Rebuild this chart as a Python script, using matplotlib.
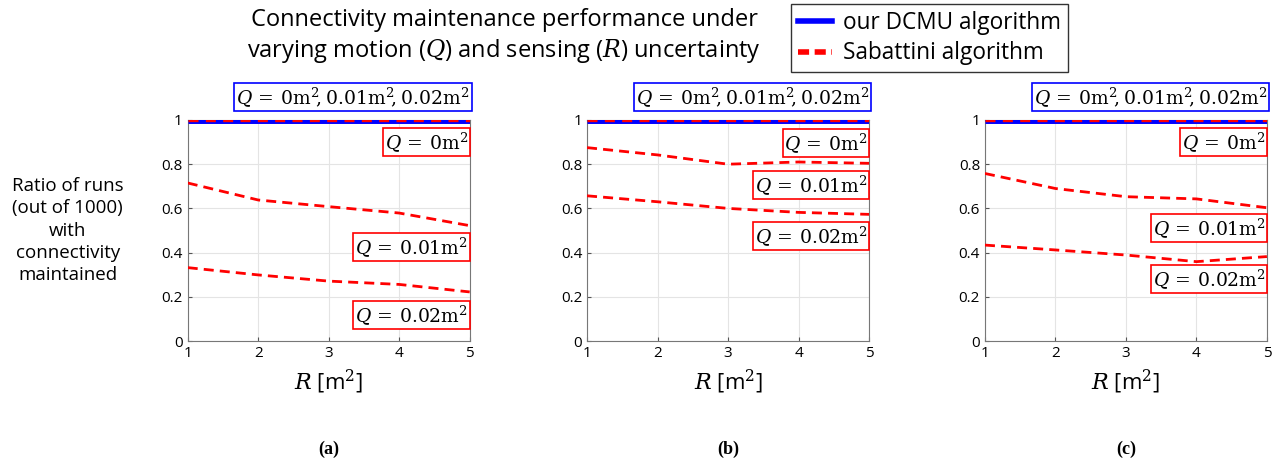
import numpy as np
import matplotlib.pyplot as plt

# data
R = [1, 2, 3, 4, 5]
dcmu_all = [1, 1, 1, 1, 1]
sab_q0 = [1, 1, 1, 1, 1]
sab_q001 = {
    "a": [0.715, 0.638, 0.608, 0.579, 0.522],
    "b": [0.875, 0.842, 0.800, 0.810, 0.804],
    "c": [0.758, 0.690, 0.653, 0.643, 0.603],
}
sab_q002 = {
    "a": [0.332, 0.299, 0.271, 0.256, 0.222],
    "b": [0.657, 0.630, 0.600, 0.582, 0.573],
    "c": [0.434, 0.412, 0.389, 0.359, 0.382],
}
# y position of the red label boxes (data coords)
label_y = {
    "a": [0.90, 0.425, 0.118],
    "b": [0.896, 0.706, 0.475],
    "c": [0.90, 0.51, 0.28],
}
panels = ["a", "b", "c"]
q_labels = [r"$Q\,=\,0\mathrm{m}^2$", r"$Q\,=\,0.01\mathrm{m}^2$", r"$Q\,=\,0.02\mathrm{m}^2$"]
blue_label = r"$Q\,=\,0\mathrm{m}^2\!,0.01\mathrm{m}^2\!,0.02\mathrm{m}^2$"

plt.rcParams['mathtext.fontset'] = 'dejavuserif'
plt.rcParams['font.family'] = ['Open Sans', 'DejaVu Sans']

fig = plt.figure(figsize=(12.77, 4.61), dpi=100)
lefts = [0.147, 0.4597, 0.7713]
dash = (0, (3.6, 2.2))

for key, left in zip(panels, lefts):
    ax = fig.add_axes([left, 0.2603, 0.2208, 0.4794])
    ax.plot(R, dcmu_all, color='blue', lw=5, solid_capstyle='butt', zorder=3)
    ax.plot(R, sab_q0, color='red', lw=2.4, ls=(0, (3, 2.2)), zorder=4)
    ax.plot(R, sab_q001[key], color='red', lw=2, ls=dash, zorder=4)
    ax.plot(R, sab_q002[key], color='red', lw=2, ls=dash, zorder=4)
    ax.set_xlim(1, 5)
    ax.set_ylim(0, 1)
    ax.set_xticks(R)
    ax.set_yticks([0, 0.2, 0.4, 0.6, 0.8, 1])
    ax.set_yticklabels(["0", "0.2", "0.4", "0.6", "0.8", "1"])
    ax.tick_params(direction='in', labelsize=11, length=3, color='#555555')
    ax.grid(True, color='#e4e4e4', lw=0.8)
    for s in ax.spines.values():
        s.set_color('#777777')
    ax.set_xlabel(r"$R$ [m$^2$]", fontsize=16, labelpad=5)
    ax.text(5, 1.104, blue_label, ha='right', va='center', fontsize=13.5,
            bbox=dict(boxstyle='square,pad=0.1', fc='white', ec='blue', lw=1.2),
            clip_on=False)
    for lab, yy in zip(q_labels, label_y[key]):
        ax.text(4.98, yy, lab, ha='right', va='center', fontsize=13.5, zorder=5,
                bbox=dict(boxstyle='square,pad=0.1', fc='white', ec='red', lw=1.2))
    ax.text(0.5, -0.49, "(" + key + ")", transform=ax.transAxes, ha='center',
            va='center', fontsize=13, fontweight='bold', family='Liberation Serif')

fig.text(0.053, 0.50, "Ratio of runs\n(out of 1000)\nwith\nconnectivity\nmaintained",
         ha='center', va='center', fontsize=13.5, linespacing=1.3)

fig.text(0.395, 0.92, "Connectivity maintenance performance under\nvarying motion ($Q$) and sensing ($R$) uncertainty",
         ha='center', va='center', fontsize=17, linespacing=1.25)

# legend
h1, = fig.axes[0].plot([], [], color='blue', lw=4)
h2, = fig.axes[0].plot([], [], color='red', lw=4, ls=(0, (2, 1)))
fig.legend([h1, h2], ["our DCMU algorithm", "Sabattini algorithm"],
           loc='center', bbox_to_anchor=(0.728, 0.917), fontsize=16.3,
           frameon=True, fancybox=False, edgecolor='black', handlelength=1.5,
           borderpad=0.3, labelspacing=0.28, handletextpad=0.5)

fig.savefig("out.png", dpi=100)
